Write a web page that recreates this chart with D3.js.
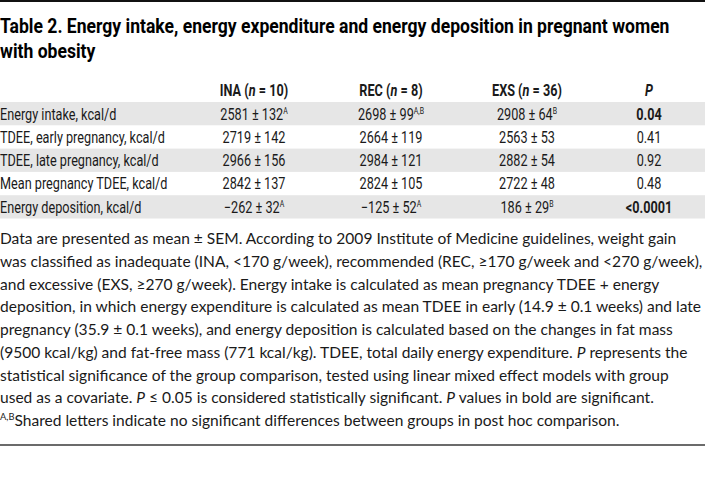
<!DOCTYPE html>
<html><head><meta charset="utf-8">
<script src="https://cdn.jsdelivr.net/npm/d3@7"></script>
<style>
html,body{margin:0;padding:0;background:#fff;}
svg{display:block;}
</style></head>
<body>
<script>
// ---------- DATA ----------
const titleLines = [
  "Table 2. Energy intake, energy expenditure and energy deposition in pregnant women",
  "with obesity"
];
const groups = ["INA", "REC", "EXS"];
const groupN = [10, 8, 36];
const rowLabels = [
  "Energy intake, kcal/d",
  "TDEE, early pregnancy, kcal/d",
  "TDEE, late pregnancy, kcal/d",
  "Mean pregnancy TDEE, kcal/d",
  "Energy deposition, kcal/d"
];
const inaMean = [2581, 2719, 2966, 2842, -262];
const inaSem  = [132, 142, 156, 137, 32];
const inaSup  = ["A", "", "", "", "A"];
const recMean = [2698, 2664, 2984, 2824, -125];
const recSem  = [99, 119, 121, 105, 52];
const recSup  = ["A,B", "", "", "", "A"];
const exsMean = [2908, 2563, 2882, 2722, 186];
const exsSem  = [64, 53, 54, 48, 29];
const exsSup  = ["B", "", "", "", "B"];
const pValues = ["0.04", "0.41", "0.92", "0.48", "<0.0001"];
const footnoteLines = [
  "Data are presented as mean ± SEM. According to 2009 Institute of Medicine guidelines, weight gain",
  "was classified as inadequate (INA, <170 g/week), recommended (REC, ≥170 g/week and <270 g/week),",
  "and excessive (EXS, ≥270 g/week). Energy intake is calculated as mean pregnancy TDEE + energy",
  "deposition, in which energy expenditure is calculated as mean TDEE in early (14.9 ± 0.1 weeks) and late",
  "pregnancy (35.9 ± 0.1 weeks), and energy deposition is calculated based on the changes in fat mass",
  "(9500 kcal/kg) and fat-free mass (771 kcal/kg). TDEE, total daily energy expenditure. *P* represents the",
  "statistical significance of the group comparison, tested using linear mixed effect models with group",
  "used as a covariate. *P* ≤ 0.05 is considered statistically significant. *P* values in bold are significant.",
  "^A,B^Shared letters indicate no significant differences between groups in post hoc comparison."
];

// ---------- LAYOUT ----------
const W = 705, H = 500;
const condensed = "Roboto,'DejaVu Sans',sans-serif";
const bodyFont = "Lato,'Open Sans',sans-serif";
const ink = "#1a1a1a";

const svg = d3.select("body").append("svg").attr("width", W).attr("height", H);

function measure(text, family, weight, size) {
  const t = svg.append("text").attr("font-family", family).attr("font-weight", weight)
    .attr("font-size", size).text(text);
  const w = t.node().getComputedTextLength();
  t.remove();
  return w;
}
// a text placed inside a horizontally condensed group
function cText(parent, x, y, k) {
  return parent.append("g").attr("transform", `translate(${x},${y}) scale(${k},1)`)
    .append("text").attr("x", 0).attr("y", 0);
}

// top rule
svg.append("rect").attr("x", 0).attr("y", 0).attr("width", W).attr("height", 2).attr("fill", "#111");

// title
const titleSize = 21;
const titleK = 670 / measure(titleLines[0], condensed, "bold", titleSize);
const titleG = svg.append("g").attr("font-family", condensed).attr("font-weight", "bold")
  .attr("font-size", titleSize).attr("fill", "#000");
titleLines.forEach((line, i) => cText(titleG, 0, 33 + i * 24.5, titleK).text(line));

// table scales
const rowY = d3.scaleBand().domain(d3.range(rowLabels.length)).range([102, 218.5]).padding(0);
const colKeys = ["INA", "REC", "EXS", "P"];
const colX = d3.scaleOrdinal().domain(colKeys).range([254, 391, 527, 649]);

const tableSize = 16;
const tableK = 165 / measure(rowLabels[1], condensed, "normal", tableSize);
const baseOff = 17.5;

// shaded bands
svg.append("g").selectAll("rect").data(rowLabels.map((d, i) => i).filter(i => i % 2 === 0)).join("rect")
  .attr("x", 0).attr("width", W).attr("y", i => rowY(i)).attr("height", rowY.bandwidth())
  .attr("fill", "#e6e6e6");

// header
const header = svg.append("g").attr("font-family", condensed).attr("font-weight", "bold")
  .attr("font-size", tableSize).attr("fill", ink).attr("text-anchor", "middle");
groups.forEach((g, i) => {
  const t = cText(header, colX(g), 96, tableK);
  t.append("tspan").text(g + " (");
  t.append("tspan").attr("font-style", "italic").text("n");
  t.append("tspan").text(" = " + groupN[i] + ")");
});
cText(header, colX("P"), 96, tableK).attr("font-style", "italic").text("P");

// table body group
const body = svg.append("g").attr("font-family", condensed).attr("font-size", tableSize).attr("fill", ink);

// row labels
rowLabels.forEach((lab, i) => cText(body, 0, rowY(i) + baseOff, tableK).text(lab));

// value cells
const fmt = v => (v < 0 ? "\u2212" + Math.abs(v) : String(v));
const series = [
  {key: "INA", mean: inaMean, sem: inaSem, sup: inaSup},
  {key: "REC", mean: recMean, sem: recSem, sup: recSup},
  {key: "EXS", mean: exsMean, sem: exsSem, sup: exsSup}
];
series.forEach(s => {
  s.mean.forEach((m, i) => {
    const t = cText(body, colX(s.key), rowY(i) + baseOff, tableK).attr("text-anchor", "middle");
    t.append("tspan").text(fmt(m) + " ± " + s.sem[i]);
    if (s.sup[i]) {
      t.append("tspan").attr("font-size", tableSize * 0.55).attr("dy", -6).text(s.sup[i]);
    }
  });
});

// p values
const pNum = p => parseFloat(p.replace("<", ""));
pValues.forEach((p, i) => {
  cText(body, colX("P"), rowY(i) + baseOff, tableK).attr("text-anchor", "middle")
    .attr("font-weight", pNum(p) <= 0.05 ? "bold" : "normal").text(p);
});

// footnote
function plain(line) { return line.replace(/\*/g, "").replace(/\^/g, ""); }
const footSize = 16 * 703 / measure(plain(footnoteLines[1]), bodyFont, "normal", 16);
const foot = svg.append("g").attr("font-family", bodyFont).attr("font-size", footSize).attr("fill", ink);
footnoteLines.forEach((line, i) => {
  const t = foot.append("text").attr("x", 0).attr("y", 244 + i * 22.75);
  const parts = line.split(/(\*[^*]+\*|\^[^^]+\^)/).filter(p => p.length);
  let pendingDy = 0;
  parts.forEach(p => {
    if (p.startsWith("*")) {
      t.append("tspan").attr("font-style", "italic").attr("dy", pendingDy).text(p.slice(1, -1));
      pendingDy = 0;
    } else if (p.startsWith("^")) {
      t.append("tspan").attr("font-size", footSize * 0.6).attr("dy", -6).text(p.slice(1, -1));
      pendingDy = 6;
    } else {
      t.append("tspan").attr("dy", pendingDy).text(p);
      pendingDy = 0;
    }
  });
});

// bottom rule
svg.append("rect").attr("x", 0).attr("y", 444).attr("width", W).attr("height", 2).attr("fill", "#6b6b6b");
</script>
</body></html>
